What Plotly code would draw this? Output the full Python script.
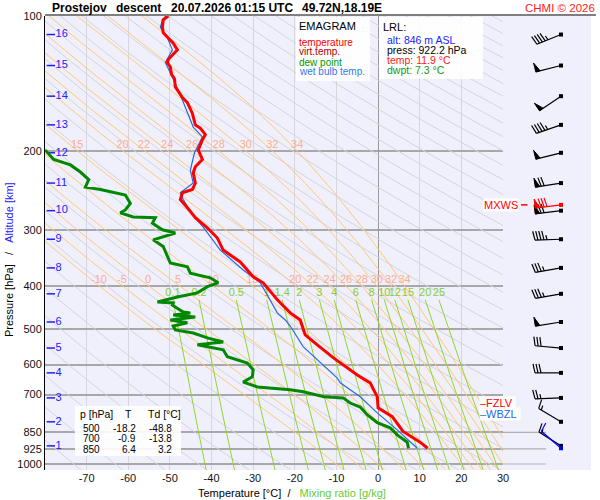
import numpy as np
import plotly.graph_objects as go

FONT = "Liberation Sans, Arial, sans-serif"

# sounding: pressure [hPa] and temperature [°C]
temp_p = [100, 102, 106, 109, 112, 115, 119, 122, 125, 127, 130, 135, 138, 144, 152, 156, 165, 175, 178, 184,
          189, 199, 209, 217, 224, 236, 244, 248, 257, 268, 282, 297, 313, 333, 354, 382, 394, 430, 460, 477,
          515, 542, 579, 633, 659, 708, 749, 784, 817, 846, 894, 922.2]
temp_t = [-50.4, -51.6, -51.8, -51.6, -50.4, -49.2, -48.2, -49.2, -50.4, -50.6, -49.9, -49.6, -48.9, -48.7,
          -47.0, -45.8, -44.6, -43.9, -42.7, -41.5, -42.2, -43.2, -42.2, -43.9, -44.4, -43.9, -44.6, -47.0,
          -47.5, -45.8, -43.9, -41.0, -38.6, -37.2, -33.1, -30.0, -27.6, -24.2, -21.1, -18.7, -17.5, -14.6,
          -10.8, -5.0, -1.9, -0.2, 0.0, 3.4, 4.8, 6.0, 10.1, 11.9]

dwpt_p = [199, 209, 215, 223, 232, 241, 244, 248, 251, 262, 271, 275, 281, 282, 290, 300, 305, 316, 327, 356,
          363, 375, 384, 394, 402, 415, 424, 435, 437, 442, 458, 460, 465, 470, 477, 484, 492, 502, 510, 523,
          534, 542, 556, 576, 595, 616, 639, 656, 673, 683, 690, 708, 712, 731, 746, 776, 809, 830, 861, 894,
          922.2]
dwpt_t = [-80.0, -77.9, -73.9, -71.5, -69.5, -70.3, -66.7, -63.5, -60.7, -59.5, -60.7, -61.9, -58.8, -53.5,
          -54.2, -51.8, -48.7, -54.0, -51.6, -49.9, -45.8, -45.1, -40.3, -38.4, -41.0, -43.4, -48.2, -53.0,
          -49.2, -49.4, -46.8, -45.1, -49.2, -43.9, -49.9, -45.8, -49.2, -48.7, -44.4, -41.0, -37.2, -43.4,
          -37.2, -36.2, -31.4, -30.0, -30.2, -32.4, -29.0, -21.1, -18.0, -13.0, -8.4, -6.7, -4.3, -2.6, -0.2,
          2.9, 4.6, 7.0, 7.3]

wetb_p = [100, 102, 106, 112, 119, 127, 137, 154, 177, 186, 196, 202, 221, 236, 248, 255, 278, 296, 333, 369,
          394, 430, 460, 477, 492, 547, 643, 659, 708, 769, 839, 922.2]
wetb_t = [-51.0, -51.8, -52.3, -50.6, -49.4, -51.1, -49.4, -47.0, -44.4, -42.2, -43.4, -44.1, -45.1, -44.4,
          -47.5, -47.0, -44.6, -42.0, -37.9, -32.4, -28.3, -25.9, -24.2, -22.3, -21.1, -18.0, -9.8, -9.1,
          -4.3, -0.2, 4.6, 9.4]

# altitude marks [km] and the pressure they sit at
alt_km = list(range(1, 17))
alt_p = [911, 805, 712, 626, 551, 482, 417, 365, 315, 272, 236, 202, 175, 151, 129, 110]

# wind at each km level
wind_dir = [302, 301, 268, 270, 275, 261, 260, 260, 268, 263, 261, 256, 251, 236, 256, 248]
wind_kt = [15, 15, 25, 30, 30, 50, 35, 35, 45, 70, 70, 50, 45, 50, 50, 45]
mxws_p, mxws_dir, mxws_kt = 264, 263, 80

# launch level
lrl_alt, lrl_p, lrl_t, lrl_td = 846, 922.2, 11.9, 7.3
lrl_dir, lrl_kt = 311, 10
fzlv_p, wbzl_p = 731, 773

table_p = [500, 700, 850]
table_t = [-18.2, -0.9, 6.4]
table_td = [-48.8, -13.8, 3.2]

# emagram background
dry_theta = list(range(190, 600, 10))
moist_thw = [-10, -5, 0, 5, 10, 15, 20, 22, 24, 26, 28, 30, 32, 34]
mix_ratio = [0.1, 0.2, 0.5, 1, 1.4, 2, 3, 4, 6, 8, 10, 12, 15, 20, 25]

p_ticks = [100, 200, 300, 400, 500, 600, 700, 850, 925, 1000]
t_ticks = [-70, -60, -50, -40, -30, -20, -10, 0, 10, 20, 30]

Y_RANGE = [3.01339, 2.0]
PX_DEC = 448.0  # pixels per pressure decade in this layout

fig = go.Figure()


def add_lines(xs_list, ps_list, color, width, xa='x', ya='y', fill=None):
    x, y = [], []
    for xs, ps in zip(xs_list, ps_list):
        x += list(xs) + [None]
        y += list(ps) + [None]
    fig.add_trace(go.Scatter(x=x, y=y, mode='lines', line=dict(color=color, width=width),
                             fill=fill, fillcolor=color, hoverinfo='skip', xaxis=xa, yaxis=ya))


# dry adiabats
p_full = np.geomspace(95, 1045, 60)
add_lines([th * (p_full / 1000) ** 0.2857 - 273.15 for th in dry_theta], [p_full] * len(dry_theta),
          '#d4d4da', 1)

# pseudo adiabats
Rd, Cp, Lv, EPS = 287.04, 1005.7, 2.501e6, 0.622


def es(tc):
    return 6.112 * np.exp(17.67 * tc / (tc + 243.5))


def slope(tk, lnp):
    p = np.exp(lnp)
    e = es(tk - 273.15)
    rs = EPS * e / (p - e)
    return (Rd * tk + Lv * rs) / (Cp + Lv * Lv * rs * EPS / (Rd * tk * tk))


def rk4(tk, lnp0, lnp1, n):
    h = (lnp1 - lnp0) / n
    out = [tk]
    for i in range(n):
        lp = lnp0 + i * h
        k1 = slope(tk, lp)
        k2 = slope(tk + h / 2 * k1, lp + h / 2)
        k3 = slope(tk + h / 2 * k2, lp + h / 2)
        k4 = slope(tk + h * k3, lp + h)
        tk = tk + h / 6 * (k1 + 2 * k2 + 2 * k3 + k4)
        out.append(tk)
    return out


lnp_grid = np.linspace(np.log(1045), np.log(95), 300)
moist_t = []
for tw in moist_thw:
    t0 = rk4(tw + 273.15, np.log(1000), np.log(1045), 10)[-1]
    moist_t.append(np.array(rk4(t0, np.log(1045), np.log(95), 299)) - 273.15)
add_lines(moist_t, [np.exp(lnp_grid)] * len(moist_t), '#ffc878', 1)


# mixing ratio lines
def t_of_w(w, p):
    e = w * p / (622.0 + w)
    lg = np.log(e / 6.112)
    return 243.5 * lg / (17.67 - lg)


p_mix = np.geomspace(430, 1045, 20)
add_lines([t_of_w(w, p_mix) for w in mix_ratio], [p_mix] * len(mix_ratio), '#92d62a', 1)

# labels of the background lines
fig.add_trace(go.Scatter(x=[t_of_w(w, 430) for w in mix_ratio], y=[415] * len(mix_ratio), mode='text',
                         text=[f'{w:g}' for w in mix_ratio], hoverinfo='skip',
                         textfont=dict(family=FONT, size=11, color='#88cc33')))
lab_x, lab_y, lab_t = [], [], []
for p_iso, p_lab in ((200, 194), (400, 388)):
    for tw, tt in zip(moist_thw, moist_t):
        tl = np.interp(np.log(p_iso), lnp_grid[::-1], tt[::-1])
        if -79 < tl < 29:
            lab_x.append(tl)
            lab_y.append(p_lab)
            lab_t.append(str(tw))
fig.add_trace(go.Scatter(x=lab_x, y=lab_y, mode='text', text=lab_t, hoverinfo='skip',
                         textfont=dict(family=FONT, size=11, color='#ffac8c')))

# altitude marks
fig.add_trace(go.Scatter(x=[-78.6] * len(alt_km), y=alt_p, mode='markers+text', text=[str(k) for k in alt_km],
                         textposition='middle right', hoverinfo='skip',
                         marker=dict(symbol='line-ew', size=6, line=dict(color='#2020ff', width=1.5)),
                         textfont=dict(family=FONT, size=11, color='#2020ff')))

# profiles
fig.add_trace(go.Scatter(x=dwpt_t, y=dwpt_p, mode='lines', line=dict(color='#008800', width=3), hoverinfo='skip'))
fig.add_trace(go.Scatter(x=wetb_t, y=wetb_p, mode='lines', line=dict(color='#2a6ae0', width=1.2),
                         hoverinfo='skip'))
fig.add_trace(go.Scatter(x=temp_t, y=temp_p, mode='lines', line=dict(color='#ff0000', width=3), hoverinfo='skip'))


# wind barbs (right hand strip, pixel units on x2)
def barb(p0, wdir, kt):
    a = np.deg2rad(wdir)
    ux, uy = np.sin(a), np.cos(a)
    nx, ny = uy, -ux

    def pt(d, h=0.0):
        dx = d * ux + h * nx
        dy = d * uy + h * ny
        return 58 + dx, p0 * 10 ** (-dy / PX_DEC)

    segs = [[pt(0), pt(26)]]
    tris = []
    kt = int(round(kt / 5.0)) * 5
    n50, r = divmod(kt, 50)
    n10, r = divmod(r, 10)
    pos = 26
    for _ in range(n50):
        tris.append([pt(pos), pt(pos, 9), pt(pos - 4.5), pt(pos)])
        pos -= 6
    for _ in range(n10):
        segs.append([pt(pos), pt(pos + 2, 9)])
        pos -= 3
    if r >= 5:
        segs.append([pt(pos), pt(pos + 1, 4.5)])
    return segs, tris


def draw_barbs(levels, color):
    segs, tris, dots = [], [], []
    for p0, d, s in levels:
        sg, tr = barb(p0, d, s)
        segs += sg
        tris += tr
        dots.append(p0)
    add_lines([[q[0] for q in s] for s in segs], [[q[1] for q in s] for s in segs], color, 1.2, 'x2', 'y2')
    if tris:
        add_lines([[q[0] for q in t] for t in tris], [[q[1] for q in t] for t in tris], color, 1, 'x2', 'y2',
                  fill='toself')
    fig.add_trace(go.Scatter(x=[58] * len(dots), y=dots, mode='markers', hoverinfo='skip', xaxis='x2',
                             yaxis='y2', marker=dict(symbol='square', size=4, color=color)))


fig.add_trace(go.Scatter(x=[0, 43, None, 0, 43, None, 0, 43], y=[850, 850, None, 925, 925, None, 1000, 1000],
                         mode='lines', line=dict(color='#b0b0b0', width=1.2), hoverinfo='skip',
                         xaxis='x2', yaxis='y2'))
draw_barbs(list(zip(alt_p, wind_dir, wind_kt)), 'black')
draw_barbs([(mxws_p, mxws_dir, mxws_kt)], '#ff0000')
draw_barbs([(lrl_p, lrl_dir, lrl_kt)], '#0000ff')
fig.add_trace(go.Scatter(x=[18, 24.5], y=[mxws_p, mxws_p], mode='lines', line=dict(color='#ff0000', width=1.5),
                         hoverinfo='skip', xaxis='x2', yaxis='y2'))


# layout helpers: pixel -> paper
def fx(x):
    return (x - 45) / 546.0


def fy(y):
    return (470 - y) / 454.0


anns = []


def note(x, y, text, color='black', size=10, xanchor='left', **kw):
    anns.append(dict(x=fx(x), y=fy(y), xref='paper', yref='paper', text=text, showarrow=False,
                     xanchor=xanchor, yanchor='middle', font=dict(family=FONT, size=size, color=color), **kw))


note(50, 8, '<b>Prostejov</b>', size=12)
note(114, 8, '<b>descent</b>', size=12)
note(169, 8, '<b>20.07.2026 01:15 UTC</b>', size=12)
note(300, 8, '<b>49.72N,18.19E</b>', size=12)
note(597, 8, 'CHMI © 2026', color='#ff1a1a', size=11.5, xanchor='right')

note(297, 26, 'EMAGRAM', size=11)
note(297, 42, 'temperature', '#ff0000')
note(297, 52, 'virt.temp.', '#b00000')
note(297, 62, 'dew point', '#009900')
note(297, 72, 'wet bulb temp.', '#3377ee')

note(381, 27, 'LRL:', size=11)
note(385, 40, f'alt: {lrl_alt} m ASL', '#1a1aff', size=10.5)
note(385, 50, f'press: {lrl_p} hPa', size=10.5)
note(385, 60, f'temp: {lrl_t} °C', '#ff1a1a', size=10.5)
note(385, 70, f'dwpt: {lrl_td} °C', '#119911', size=10.5)

note(78, 414, 'p [hPa]', size=10.5)
note(128, 414, 'T', xanchor='center', size=10.5)
note(146, 414, 'Td [°C]', size=10.5)
for row, (pp, tt, td) in enumerate(zip(table_p, table_t, table_td)):
    yy = 428 + row * 10.5
    note(102, yy, str(pp), xanchor='right')
    note(138, yy, f'{tt:.1f}', xanchor='right')
    note(174, yy, f'{td:.1f}', xanchor='right')

note(292, 493, "Temperature [°C]\u00a0\u00a0/\u00a0\u00a0\u00a0<span style='color:#66cc33'>Mixing ratio [g/kg]</span>",
     size=11, xanchor='center')
note(9, 260, "Pressure [hPa]\u00a0\u00a0\u00a0/\u00a0\u00a0\u00a0<span style='color:#2020ff'>Altitude [km]</span>",
     size=11, xanchor='center', textangle=-90)

for txt, pp, col in (('\u2013FZLV\u00a0', fzlv_p, '#ff0000'), ('\u2013WBZL\u00a0', wbzl_p, '#2a6ae0')):
    anns.append(dict(x=fx(479), y=np.log10(pp), xref='paper', yref='y', text=txt, showarrow=False,
                     xanchor='left', yanchor='middle', bgcolor='rgba(255,255,255,0.9)', borderpad=0,
                     font=dict(family=FONT, size=11, color=col)))
anns.append(dict(x=fx(519), y=np.log10(mxws_p), xref='paper', yref='y', text='MXWS', showarrow=False,
                 xanchor='right', yanchor='middle', bgcolor='white', borderpad=0,
                 font=dict(family=FONT, size=11, color='#ff0000')))

box = dict(type='rect', xref='paper', yref='paper', line=dict(width=0), fillcolor='rgba(255,255,255,0.9)',
           layer='above')
shapes = [
    dict(box, x0=fx(296), x1=fx(370), y0=fy(81), y1=fy(17)),
    dict(box, x0=fx(379), x1=fx(483), y0=fy(79), y1=fy(17)),
    dict(box, x0=fx(75), x1=fx(181), y0=fy(456), y1=fy(406)),
    dict(type='line', xref='paper', yref='paper', x0=0, x1=fx(596), y0=fy(15), y1=fy(15),
         line=dict(color='black', width=1.2)),
]

fig.update_layout(
    width=600, height=500, margin=dict(l=45, r=9, t=16, b=30, autoexpand=False),
    paper_bgcolor='white', plot_bgcolor='#f0f0fc', showlegend=False,
    font=dict(family=FONT, size=11, color='black'),
    xaxis=dict(domain=[0, 458 / 546.0], range=[-80, 30], tickvals=t_ticks, ticktext=[str(t) for t in t_ticks],
               showgrid=True, gridcolor='#d6d6dc', gridwidth=1, zeroline=True, zerolinecolor='#9a9a9a',
               zerolinewidth=1.2, showline=False, ticks='', automargin=False,
               tickfont=dict(size=11, color='#111')),
    yaxis=dict(type='log', range=Y_RANGE, tickvals=p_ticks, ticktext=[str(p) for p in p_ticks],
               showgrid=True, gridcolor='#a8a8a8', gridwidth=1.5, showline=True, linecolor='black',
               linewidth=1, ticks='', automargin=False, tickfont=dict(size=11, color='#111')),
    xaxis2=dict(domain=[458 / 546.0, 1], range=[0, 88], anchor='y2', showgrid=False, zeroline=False,
                showticklabels=False, automargin=False),
    yaxis2=dict(type='log', range=Y_RANGE, anchor='x2', showgrid=False, showticklabels=False,
                automargin=False),
    annotations=anns, shapes=shapes,
)

# the page's default body margin and scrollbar would move the 600x500 figure
fig.write_html("out.html", config={'displayModeBar': False, 'responsive': False},
               post_script="document.body.style.margin='0px';document.body.style.overflow='hidden';")
